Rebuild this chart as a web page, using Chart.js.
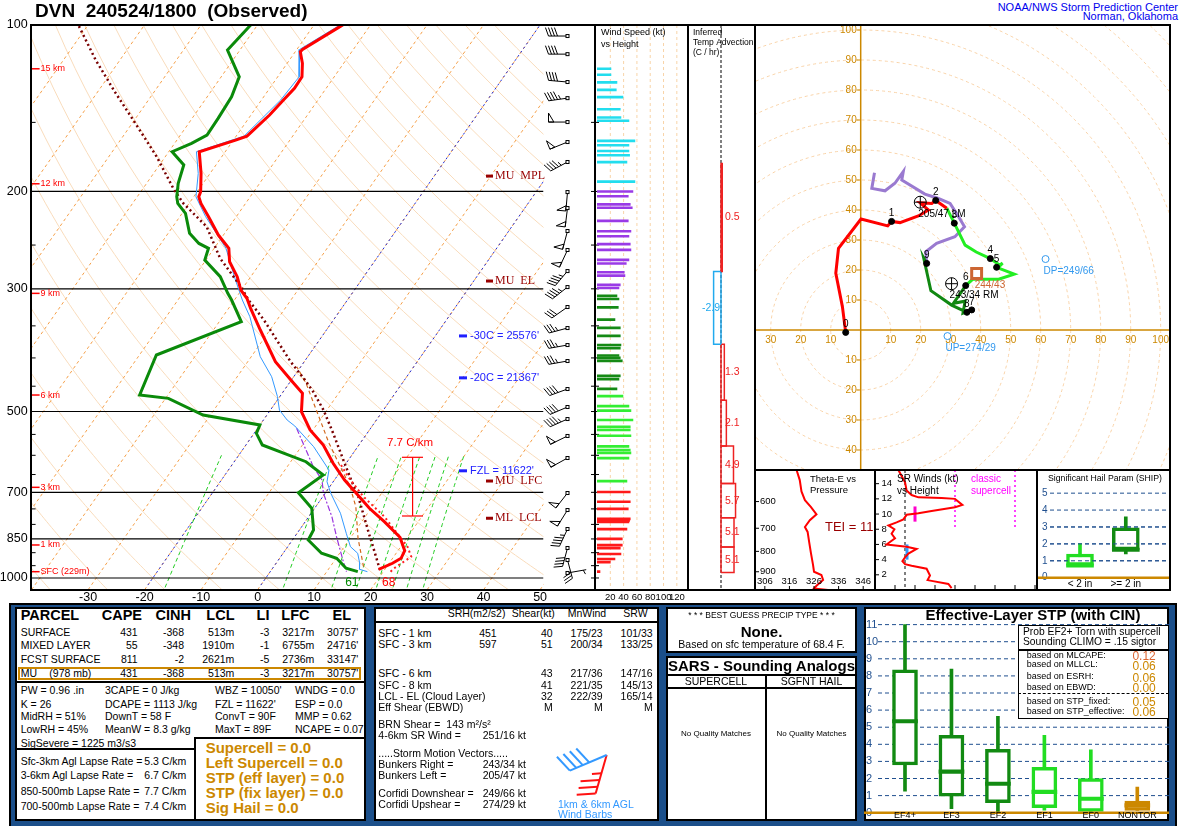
<!DOCTYPE html>
<html>
<head>
<meta charset="utf-8">
<title>DVN 240524/1800 (Observed)</title>
<script src="https://cdn.jsdelivr.net/npm/chart.js@4.4.1/dist/chart.umd.min.js"></script>
<style>
  body { margin: 0; width: 1180px; height: 826px; position: relative; overflow: hidden; background: #fff;
         font-family: "Liberation Sans", Arial, sans-serif; }
  canvas { position: absolute; z-index: 2; }
  .t { position: absolute; white-space: pre; z-index: 3; color: #000; }
  .b { position: absolute; box-sizing: border-box; z-index: 1; background: #fff; border: 2px solid #000; }
  .ln { position: absolute; background: #000; z-index: 3; }
</style>
</head>
<body>
<canvas id="skewt" width="600" height="606" style="left:0px;top:0px"></canvas>
<canvas id="wspd" width="93" height="606" style="left:595px;top:0px"></canvas>
<canvas id="tadv" width="67" height="606" style="left:688px;top:0px"></canvas>
<canvas id="hodo" width="415" height="445" style="left:755px;top:25px"></canvas>
<canvas id="theta" width="120" height="120" style="left:755px;top:470px"></canvas>
<canvas id="srw" width="162" height="120" style="left:875px;top:470px"></canvas>
<canvas id="ship" width="133" height="120" style="left:1037px;top:470px"></canvas>
<canvas id="stp" width="305" height="219" style="left:864px;top:607px"></canvas>
<canvas id="barb2" width="80" height="70" style="left:540px;top:735px"></canvas>
<script>
// ---------- sounding profiles (pressure mb, deg C) ----------
const tempP = [100, 101.4, 110.7, 111.8, 117.3, 124.1, 130.2, 136.7, 145.5, 158.8, 161.5, 169.5, 185.5, 200.2, 204.5, 210.2, 222.2, 239.8, 253.4, 268, 285.2, 301.5, 312.1, 325.4, 356.1, 406.4, 438.5, 463.5, 500.4, 540, 574.8, 620.3, 665, 707.8, 748.1, 791.1, 844.2, 892.5, 921.3, 940.6, 964.4];
const tempC = [-54.9, -55.5, -59.0, -59.1, -57.3, -55.7, -55.6, -56.1, -56.7, -58.1, -59.6, -64.6, -61.6, -59.4, -59.1, -57.9, -54.9, -50.9, -47.4, -45.6, -42.4, -40.1, -38.0, -36.1, -31.7, -25.1, -20.1, -16.4, -14.3, -10.5, -6.3, -2.3, 1.8, 6.0, 9.7, 14.0, 18.7, 21.2, 21.5, 20.6, 18.9];
const dwptP = [100, 111, 124.1, 134.8, 147.5, 158.1, 163.7, 169.5, 179.1, 193.4, 204.5, 210.2, 219.1, 238.1, 248.3, 253.4, 266.1, 285.2, 305.7, 314.3, 344, 395.2, 466.8, 473.3, 507.3, 528.9, 547.5, 574.8, 616.2, 651.3, 701.1, 748.1, 818.9, 853.7, 902.3, 921.3, 960.4, 974.1];
const dwptC = [-71.2, -72.2, -66.8, -65.7, -65.4, -65.3, -67.0, -69.4, -65.7, -64.4, -63.0, -62.0, -59.4, -56.2, -53.3, -51.0, -50.2, -45.4, -42.0, -40.5, -36.1, -47.0, -45.0, -39.5, -31.3, -20.0, -19.6, -17.1, -7.3, -2.6, -4.8, -0.5, 2.5, 2.8, 6.8, 10.1, 13.0, 15.5];
const wetbP = [100, 110.7, 124.1, 136.7, 158.8, 169.5, 185.5, 204.5, 222.2, 253.4, 285.2, 314.3, 336.9, 398, 432.6, 470.1, 496.9, 518, 531.1, 578.9, 637.9, 669.8, 702.8, 763.9, 830.2, 877.8, 902.3, 940.6, 964.4, 974.1];
const wetbC = [-55.4, -59.5, -56.2, -56.6, -58.6, -65.1, -62.1, -59.6, -55.4, -47.9, -42.9, -38.6, -35.2, -28.4, -23.9, -20.4, -18.4, -15.8, -13.7, -7.8, -2.2, -1.1, 1.0, 5.2, 8.7, 11.1, 13.2, 14.8, 15.5, 17.2];
const parcP = [967.2, 877.8, 842.1, 763.9, 712.8, 669.8, 611.8, 547.5, 496.9, 460.4, 438.5, 406.4, 341.6, 314.3, 297.4, 264.2, 231.6, 210.2, 198.8, 173.1, 152.8, 132, 115.7, 100];
const parcC = [19.2, 15.1, 13.3, 9.2, 6.3, 3.3, -0.9, -6.0, -10.6, -14.7, -17.6, -22.4, -32.3, -37.5, -40.5, -47.7, -54.0, -61.0, -64.3, -71.5, -78.6, -87.0, -94.3, -101.7];
const virtP = [974.1, 960.4, 915.1, 877.8, 774.8, 712.8, 655.9, 620];
const virtC = [21.3, 21.5, 23.1, 21.2, 13.4, 7.2, 2.0, -1.1];
const mlP = [954.1, 847.6, 743.2, 683.8, 629.1, 570.7, 444.6, 414.9];
const mlC = [15.9, 11.4, 7.1, 3.6, -0.6, -5.5, -17.0, -20.7];
const downP = [536.2, 629.1, 665, 702.8, 774.8, 842.1, 934.4, 974.1];
const downC = [-13.1, -5.4, -2.2, -0.3, 4.1, 7.4, 11.7, 13.5];

// ---------- skew-T axes ----------
const pressLabels = [100, 200, 300, 500, 700, 850, 1000];
const isobarP = [200, 300, 500, 700, 850, 1000];
const minorP = [150, 250, 350, 400, 450, 550, 600, 650, 750, 800, 900, 950];
const tempTicks = [-30, -20, -10, 0, 10, 20, 30, 40, 50];
const isothermC = [-120, -110, -100, -90, -80, -70, -60, -50, -40, -30, -20, -10, 0, 10, 20, 30, 40, 50];
const blueIsoC = [0, -20];
const adiabatC = [-40, -30, -20, -10, 0, 10, 20, 30, 40, 50, 60, 70, 80, 90, 100, 110, 120, 130, 140, 150, 160, 170, 180, 190, 200];
const mixRatio = [1, 5, 9, 12, 15, 18, 21, 25];
const hgtP = [120, 193.7, 305.7, 466.8, 685.6, 871.6, 974.1];
const hgtLabel = ['15 km', '12 km', '9 km', '6 km', '3 km', '1 km', 'SFC (229m)'];
const levelP = [187.6, 290.4, 667.8, 779.8];
const levelLabel = ['MU  MPL', 'MU  EL', 'MU  LFC', 'ML  LCL'];
const isoLvlP = [365, 434.6, 640];
const isoLvlLabel = ["-30C = 25576'", "-20C = 21367'", "FZL = 11622'"];
const lapseP = [605, 772.5];
const lapseLabel = '7.7 C/km';
const sfcLabels = ['61', '68'];

// ---------- winds ----------
const barbP = [104.7, 112.9, 126.8, 135.6, 149.8, 162.8, 176.9, 200.5, 214.3, 235.8, 255.2, 278.6, 297.8, 323.6, 353.2, 379.1, 405.2, 455.3, 490.7, 515.9, 553.6, 606.8, 702, 753.5, 815.5, 882.6, 927.8, 979.4];
const barbDir = [270, 270, 275, 262, 270, 248, 242, 185, 187, 195, 205, 220, 232, 235, 255, 260, 260, 250, 247, 246, 244, 241, 218, 212, 205, 195, 165, 80];
const barbSpd = [40, 40, 40, 45, 50, 50, 45, 50, 50, 50, 50, 44, 45, 31, 34, 36, 37, 38, 40, 45, 50, 49, 48, 50, 45, 38, 28, 5];
const spdP = [120, 123, 127, 131, 135, 142, 147, 149, 162, 165, 169, 172, 177, 192, 200, 204, 211, 214, 226, 236, 241, 249, 255, 266, 270, 280, 284, 295, 299, 309, 313, 324, 341, 353, 365, 379, 384, 396, 400, 405, 431, 437, 455, 469, 489, 498, 518, 533, 540, 553, 578, 587, 594, 607, 668, 699, 728, 750, 782, 787, 792, 816, 850, 872, 883, 905, 924, 936, 974];
const spdKt = [21, 21, 30, 29, 39, 35, 36, 48, 57, 48, 48, 49, 45, 57, 54, 47, 50, 53, 47, 51, 48, 50, 51, 48, 44, 41, 42, 35, 33, 30, 33, 32, 27, 35, 35, 36, 35, 33, 35, 38, 35, 33, 30, 39, 48, 51, 54, 50, 50, 51, 48, 50, 51, 48, 45, 50, 50, 47, 50, 49, 48, 45, 38, 38, 35, 36, 27, 20, 4.5];
const spdTicks = [20, 40, 60, 80, 100, 120];
const layerTopP = [685, 462, 304, 196];
const layerColors = ['#ff1a1a', '#33ee33', '#158a15', '#9a3ae6', '#22ddee'];

// ---------- inferred temperature advection ----------
const advTopP = [178, 279, 378, 477, 577, 675, 778, 879];
const advBotP = [279, 378, 477, 577, 675, 778, 879, 977];
const advVal = [0.5, -2.9, 1.3, 2.1, 4.9, 5.7, 5.1, 5.1];

// ---------- hodograph (u, v kt) ----------
const hodoRedU = [-5.0, -6.1, -8.3, -7.4, 0.1, 9.0, 10.3, 13.1, 19.2, 22.6, 19.8, 23.7, 25.0, 28.7];
const hodoRedV = [-0.8, 7.8, 18.9, 27.2, 37.0, 34.7, 36.2, 35.8, 38.0, 40.0, 42.4, 42.2, 43.2, 40.6];
const hodoLgU = [28.7, 31.2, 34.8, 38.5, 43.2, 46.5, 47.3, 45.3, 51.2, 46.0, 37.3, 35.0];
const hodoLgV = [40.6, 35.6, 28.3, 26.0, 23.8, 21.5, 22.3, 20.9, 18.6, 16.9, 16.9, 14.8];
const hodoDgU = [35.0, 30.9, 34.8, 34.1, 37.0, 35.4, 30.3, 23.4, 21.0, 22.0];
const hodoDgV = [14.8, 8.9, 9.6, 5.6, 6.7, 5.9, 8.3, 13.1, 24.0, 22.2];
const hodoPuU = [22.0, 21.7, 25.3, 31.4, 34.6, 32.6, 29.8, 25.5, 21.4, 13.7, 14.2, 11.4, 8.1, 3.7, 4.6];
const hodoPuV = [22.2, 26.1, 28.9, 31.1, 34.4, 37.8, 42.2, 44.0, 45.3, 50.0, 52.8, 48.9, 46.4, 47.2, 52.4];
const hodoKmU = [-5.0, 10.3, 25.0, 31.2, 43.2, 45.3, 35.0, 37.0, 35.4, 22.0];
const hodoKmV = [-0.8, 36.2, 43.2, 35.6, 23.8, 20.9, 14.8, 6.7, 5.9, 22.2];
const ringKt = [10, 20, 30, 40, 50, 60, 70, 80, 90, 100, 110, 120, 130, 140];
const hodoXTicks = [-30, -20, -10, 10, 20, 30, 40, 50, 60, 70, 80, 90, 100];
const hodoYTicks = [100, 90, 80, 70, 60, 50, 40, 30, 20, 10, -10, -20, -30, -40];
const stormLabel = ['205/47 LM', '243/34 RM'];
const stormDir = [205, 243];
const stormSpd = [47, 34];
const meanLabel = '244/43';
const meanDir = 244, meanSpd = 43;
const corfLabel = ['DP=249/66', 'UP=274/29'];
const corfDir = [249, 274];
const corfSpd = [66, 29];

// ---------- theta-e / storm-relative winds ----------
const thetaP = [500, 530, 566, 595, 619, 646, 668, 695, 715, 756, 805, 865, 900, 917, 944, 976, 991, 1000];
const thetaK = [318.9, 320.2, 320.9, 322.3, 324.7, 327.0, 324.3, 322.3, 323.4, 324.0, 324.7, 325.6, 326.0, 329.0, 329.7, 327.0, 326.0, 331.7];
const thetaXTicks = [306, 316, 326, 336, 346];
const thetaYTicks = [600, 700, 800, 900];
const srKm = [15.8, 15.0, 14.2, 13.1, 12.5, 12.2, 12.1, 12.0, 11.2, 10.9, 10.4, 10.1, 9.9, 9.3, 8.9, 8.5, 8.0, 7.4, 6.8, 6.0, 5.7, 5.4, 4.8, 4.3, 3.8, 3.4, 3.2, 2.8, 1.9, 1.3, 1.2, 0.8, 0.26];
const srKt = [11.7, 13.3, 15, 15.8, 18.3, 21.7, 33.3, 40, 43.7, 40, 28.3, 21.7, 15.8, 14.2, 10.8, 6.7, 9.7, 8.3, 10, 5.8, 15.8, 20.8, 16.7, 15, 13.7, 15, 18.3, 25.8, 27.5, 26.3, 28.3, 36.7, 38.3];
const srYTicks = [2, 4, 6, 8, 10, 12, 14];
const srLayerKm = [[9, 11], [4, 6]];
const srLayerKt = [20, 16];

// ---------- SHIP and STP box plots ----------
const shipCats = ['< 2 in', '>= 2 in'];
const shipMin = [0.72, 1.4], shipQ1 = [0.72, 1.65], shipMed = [0.72, 1.65], shipQ3 = [1.4, 2.95], shipMax = [2.0, 3.6];
const stpCats = ['EF4+', 'EF3', 'EF2', 'EF1', 'EF0', 'NONTOR'];
const stpMin = [1.26, 0.23, 0.04, 0.15, 0.0, 0.13];
const stpQ1 = [2.79, 0.96, 0.58, 0.29, 0.08, 0.13];
const stpMed = [5.35, 2.4, 1.69, 1.22, 0.82, 0.43];
const stpQ3 = [8.36, 4.52, 3.71, 2.65, 2.0, 0.68];
const stpMax = [11.0, 8.4, 5.64, 4.52, 3.68, 1.5];
const stpColors = ['#128a12', '#128a12', '#128a12', '#22dd22', '#22dd22', '#cc8800'];
const stpTicks = [0, 1, 2, 3, 4, 5, 6, 7, 8, 9, 10, 11];

// 1 km and 6 km AGL barbs (dir, kt)
const aglDir = [196, 247];
const aglSpd = [35, 40];
const aglColor = ['#ff1111', '#3399ff'];

// ---------- helpers ----------
const FONT = '"Liberation Sans", Arial, sans-serif';
const SKEW = 29.76;
function skewX(t, p) { return t + SKEW * Math.log(1050 / p); }
function prof(ps, ts) { return ps.map((p, i) => ({ x: skewX(ts[i], p), y: p })); }
function xy(xs, ys) { return xs.map((v, i) => ({ x: v, y: ys[i] })); }
function lineDs(data, color, width, dash) {
  return { data: data, showLine: true, borderColor: color, borderWidth: width, borderDash: dash || [],
           pointRadius: 0, fill: false, tension: 0 };
}
function base(extra) {
  const o = Object.assign({ responsive: false, animation: false, events: [],
    plugins: { legend: { display: false }, tooltip: { enabled: false } } }, extra);
  o.layout = Object.assign({ autoPadding: false, padding: 0 }, extra.layout || {});
  return o;
}
function uv(dir, spd) {
  const r = dir * Math.PI / 180;
  return [-spd * Math.sin(r), -spd * Math.cos(r)];
}
function seg(ctx, x1, y1, x2, y2) { ctx.beginPath(); ctx.moveTo(x1, y1); ctx.lineTo(x2, y2); ctx.stroke(); }
function layerColor(p) {
  for (let i = 0; i < layerTopP.length; i++) if (p > layerTopP[i]) return layerColors[i];
  return layerColors[layerColors.length - 1];
}

// staff points toward the direction the wind blows from; 50 kt flags drawn as open triangles
function drawBarb(ctx, x, y, dir, spd, len, flen, gap, solidFlag) {
  const r = dir * Math.PI / 180;
  const dx = Math.sin(r), dy = -Math.cos(r);
  const fx = -dy, fy = dx;
  const ex = x + dx * len, ey = y + dy * len;
  seg(ctx, x, y, ex, ey);
  const ox = (fx * 0.94 + dx * 0.34) * flen, oy = (fy * 0.94 + dy * 0.34) * flen;
  let s = Math.round(spd / 5) * 5, d = 0;
  while (s >= 50) {
    const bx = ex - dx * d, by = ey - dy * d;
    ctx.beginPath(); ctx.moveTo(bx, by); ctx.lineTo(bx + fx * flen, by + fy * flen);
    ctx.lineTo(bx - dx * gap * 1.8, by - dy * gap * 1.8); ctx.closePath();
    if (solidFlag) ctx.fill(); else ctx.stroke();
    d += gap * 2.4; s -= 50;
  }
  while (s >= 10) {
    const bx = ex - dx * d, by = ey - dy * d;
    seg(ctx, bx, by, bx + ox, by + oy);
    d += gap; s -= 10;
  }
  if (s >= 5) {
    if (d === 0) d = gap;
    const bx = ex - dx * d, by = ey - dy * d;
    seg(ctx, bx, by, bx + ox * 0.5, by + oy * 0.5);
  }
}

// ---------- skew-T ----------
const skewPlugin = {
  id: 'skewPlugin',
  beforeDatasetsDraw(chart) {
    const { ctx, chartArea: a, scales: { x, y } } = chart;
    const px = (t, p) => x.getPixelForValue(skewX(t, p));
    const py = p => y.getPixelForValue(p);
    ctx.save();
    ctx.beginPath(); ctx.rect(a.left, a.top, a.right - a.left, a.bottom - a.top); ctx.clip();
    ctx.lineWidth = 1;
    ctx.strokeStyle = '#f9dcbc';
    adiabatC.forEach(t0 => {
      const th = t0 + 273.15;
      ctx.beginPath();
      for (let p = 1050; p >= 100; p -= 10) {
        const t = th * Math.pow(p / 1000, 0.2857) - 273.15;
        if (p === 1050) ctx.moveTo(px(t, p), py(p)); else ctx.lineTo(px(t, p), py(p));
      }
      ctx.stroke();
    });
    ctx.setLineDash([3, 3]); ctx.strokeStyle = '#f5a04a';
    isothermC.forEach(t => seg(ctx, px(t, 1050), py(1050), px(t, 100), py(100)));
    ctx.setLineDash([4, 3]); ctx.strokeStyle = '#22cc22';
    mixRatio.forEach(w => {
      ctx.beginPath();
      for (let p = 1040; p >= 600; p -= 20) {
        const l = Math.log(w * p / (622 + w) / 6.112);
        const t = 243.5 * l / (17.67 - l);
        if (p === 1040) ctx.moveTo(px(t, p), py(p)); else ctx.lineTo(px(t, p), py(p));
      }
      ctx.stroke();
    });
    ctx.setLineDash([2, 3]); ctx.strokeStyle = '#1f2fe0';
    blueIsoC.forEach(t => seg(ctx, px(t, 1030), py(1030), px(t, 100), py(100)));
    ctx.setLineDash([]); ctx.strokeStyle = '#000'; ctx.lineWidth = 1.2;
    isobarP.forEach(p => seg(ctx, a.left, py(p), a.right, py(p)));
    ctx.restore();
  },
  afterDraw(chart) {
    const { ctx, chartArea: a, scales: { x, y } } = chart;
    const px = (t, p) => x.getPixelForValue(skewX(t, p));
    const py = p => y.getPixelForValue(p);
    ctx.save();
    ctx.textBaseline = 'middle';
    ctx.fillStyle = '#000'; ctx.strokeStyle = '#000'; ctx.lineWidth = 1;
    ctx.font = '12.5px ' + FONT; ctx.textAlign = 'right';
    pressLabels.forEach(p => ctx.fillText(String(p), a.left - 3, py(p)));
    minorP.forEach(p => seg(ctx, a.left, py(p), a.left + 5, py(p)));
    for (let p = 150; p <= 1000; p += 50) seg(ctx, 591, py(p), 599, py(p));
    ctx.textAlign = 'center';
    tempTicks.forEach(t => ctx.fillText(String(t), x.getPixelForValue(t), a.bottom + 8));
    // heights
    ctx.strokeStyle = '#ff0000'; ctx.fillStyle = '#ff0000'; ctx.lineWidth = 1.5;
    ctx.font = '9px ' + FONT; ctx.textAlign = 'left';
    hgtP.forEach((p, i) => { seg(ctx, a.left, py(p), a.left + 9, py(p)); ctx.fillText(hgtLabel[i], a.left + 10, py(p)); });
    // parcel levels
    ctx.fillStyle = '#990000'; ctx.font = '12px "Liberation Serif", "DejaVu Serif", serif';
    levelP.forEach((p, i) => { ctx.fillRect(486, py(p) - 1.5, 7, 3); ctx.fillText(levelLabel[i], 495, py(p)); });
    ctx.fillStyle = '#2020ff'; ctx.font = '11px ' + FONT;
    isoLvlP.forEach((p, i) => { ctx.fillRect(459, py(p) - 1.5, 8, 3); ctx.fillText(isoLvlLabel[i], 470, py(p)); });
    // lapse-rate bracket
    ctx.strokeStyle = '#ff0000'; ctx.fillStyle = '#ff0000'; ctx.lineWidth = 1.2;
    const y1 = py(lapseP[0]), y2 = py(lapseP[1]);
    seg(ctx, 412.6, y1, 412.6, y2); seg(ctx, 402, y1, 423, y1); seg(ctx, 402, y2, 423, y2);
    ctx.font = '11.5px ' + FONT;
    ctx.textAlign = 'center'; ctx.fillText(lapseLabel, 410, y1 - 14);
    // surface values
    ctx.font = '12px ' + FONT;
    ctx.fillStyle = '#008800';
    ctx.fillText(sfcLabels[0], px(dwptC[dwptC.length - 1], dwptP[dwptP.length - 1]) - 6, py(1021));
    ctx.fillStyle = '#ff0000';
    ctx.fillText(sfcLabels[1], px(tempC[tempC.length - 1], tempP[tempP.length - 1]) + 10, py(1021));
    // wind barbs
    ctx.strokeStyle = '#000'; ctx.fillStyle = '#000'; ctx.lineWidth = 1;
    barbP.forEach((p, i) => {
      drawBarb(ctx, 567.5, py(p), barbDir[i], barbSpd[i], 19, 9, 3, false);
      ctx.fillStyle = '#fff';
      ctx.fillRect(566, py(p) - 1.5, 3, 3); ctx.strokeRect(566, py(p) - 1.5, 3, 3);
      ctx.fillStyle = '#000';
    });
    ctx.restore();
  }
};

new Chart(document.getElementById('skewt'), {
  type: 'scatter',
  data: { datasets: [
    lineDs(prof(tempP, tempC), '#ff0000', 3),
    lineDs(prof(dwptP, dwptC), '#0a8a0a', 3),
    lineDs(prof(virtP, virtC), '#ff2222', 2, [2, 3]),
    lineDs(prof(parcP, parcC), '#7a0000', 2.5, [2, 3]),
    lineDs(prof(wetbP, wetbC), '#3399ff', 1),
    lineDs(prof(mlP, mlC), '#d2691e', 1.2, [4, 3]),
    lineDs(prof(downP, downC), '#9933dd', 1.2, [6, 2, 2, 2])
  ] },
  options: base({
    layout: { padding: { left: 30.6, right: 56.5, top: 25, bottom: 16.3 } },
    scales: {
      x: { type: 'linear', min: -40.18, max: 50.6, display: false, bounds: 'data' },
      y: { type: 'logarithmic', min: 100, max: 1050, reverse: true, display: false, bounds: 'data' }
    }
  }),
  plugins: [skewPlugin]
});

// ---------- wind speed vs height ----------
new Chart(document.getElementById('wspd'), {
  type: 'bar',
  data: { datasets: [{ data: xy(spdKt, spdP), backgroundColor: spdP.map(layerColor), barThickness: 2, borderWidth: 0 }] },
  options: base({
    indexAxis: 'y',
    layout: { padding: { left: 2, right: 0, top: 25, bottom: 16.3 } },
    scales: {
      x: { type: 'linear', min: 0, max: 136.8, display: false, bounds: 'data' },
      y: { type: 'logarithmic', min: 100, max: 1050, reverse: true, display: false, bounds: 'data' }
    }
  }),
  plugins: [{
    id: 'wspdPlugin',
    beforeDatasetsDraw(chart) {
      const { ctx, chartArea: a, scales: { x } } = chart;
      ctx.save(); ctx.strokeStyle = '#f8d4a8'; ctx.setLineDash([3, 3]); ctx.lineWidth = 1;
      spdTicks.forEach(v => seg(ctx, x.getPixelForValue(v), a.top, x.getPixelForValue(v), a.bottom));
      ctx.restore();
    },
    afterDraw(chart) {
      const { ctx, chartArea: a, scales: { x } } = chart;
      ctx.save(); ctx.fillStyle = '#000'; ctx.textBaseline = 'middle';
      ctx.font = '9.5px ' + FONT; ctx.textAlign = 'center';
      spdTicks.forEach(v => ctx.fillText(String(v), x.getPixelForValue(v), a.bottom + 8));
      ctx.textAlign = 'left'; ctx.font = '9px ' + FONT;
      ctx.fillText('Wind Speed (kt)', 6, 33); ctx.fillText('vs Height', 6, 45);
      ctx.restore();
    }
  }]
});

// ---------- inferred temperature advection ----------
new Chart(document.getElementById('tadv'), {
  type: 'scatter',
  data: { datasets: advVal.map((v, i) => lineDs(
    [{ x: 0, y: advBotP[i] }, { x: v, y: advBotP[i] }, { x: v, y: advTopP[i] }, { x: 0, y: advTopP[i] }, { x: 0, y: advBotP[i] }],
    v >= 0 ? '#ee2222' : '#22aaee', 1.5)) },
  options: base({
    layout: { padding: { left: 0, right: 0, top: 25, bottom: 16.3 } },
    scales: {
      x: { type: 'linear', min: -12.94, max: 13.33, display: false, bounds: 'data' },
      y: { type: 'logarithmic', min: 100, max: 1050, reverse: true, display: false, bounds: 'data' }
    }
  }),
  plugins: [{
    id: 'advPlugin',
    beforeDatasetsDraw(chart) {
      const { ctx, chartArea: a, scales: { x } } = chart;
      ctx.save(); ctx.strokeStyle = '#000'; ctx.setLineDash([3, 2]); ctx.lineWidth = 1;
      seg(ctx, x.getPixelForValue(0), a.top, x.getPixelForValue(0), a.bottom);
      ctx.restore();
    },
    afterDraw(chart) {
      const { ctx, scales: { x, y } } = chart;
      ctx.save(); ctx.textBaseline = 'middle'; ctx.font = '10.5px ' + FONT;
      const x0 = x.getPixelForValue(0);
      advVal.forEach((v, i) => {
        const yc = (y.getPixelForValue(advTopP[i]) + y.getPixelForValue(advBotP[i])) / 2;
        if (v >= 0) { ctx.fillStyle = '#ee2222'; ctx.textAlign = 'left'; ctx.fillText(v.toFixed(1), x0 + 4, yc); }
        else { ctx.fillStyle = '#22aaee'; ctx.textAlign = 'right'; ctx.fillText(v.toFixed(1), x0 - 1, yc); }
      });
      ctx.fillStyle = '#000'; ctx.textAlign = 'left'; ctx.font = '8.5px ' + FONT;
      ctx.fillText('Inferred', 5, 33); ctx.fillText('Temp Advection', 5, 43); ctx.fillText('(C / hr)', 5, 53);
      ctx.restore();
    }
  }]
});

// ---------- hodograph ----------
const stormUV = stormDir.map((d, i) => uv(d, stormSpd[i]));
const meanUV = uv(meanDir, meanSpd);
const corfUV = corfDir.map((d, i) => uv(d, corfSpd[i]));
const hodoTrace = (u, v, c) => lineDs(xy(u, v), c, 3);
new Chart(document.getElementById('hodo'), {
  type: 'scatter',
  data: { datasets: [
    { data: xy(hodoKmU, hodoKmV), pointRadius: 3, pointBackgroundColor: '#000', pointBorderColor: '#000' },
    { data: stormUV.map(p => ({ x: p[0], y: p[1] })), pointStyle: 'circle', pointRadius: 6, pointBackgroundColor: 'rgba(0,0,0,0)', pointBorderColor: '#000', pointBorderWidth: 1 },
    { data: stormUV.map(p => ({ x: p[0], y: p[1] })), pointStyle: 'cross', pointRadius: 6, pointBorderColor: '#000', pointBorderWidth: 1 },
    { data: [{ x: meanUV[0], y: meanUV[1] }], pointStyle: 'rect', pointRadius: 7, pointBackgroundColor: '#fff', pointBorderColor: '#cc6633', pointBorderWidth: 3 },
    { data: corfUV.map(p => ({ x: p[0], y: p[1] })), pointStyle: 'circle', pointRadius: 3.5, pointBackgroundColor: '#fff', pointBorderColor: '#3399ee', pointBorderWidth: 1 },
    hodoTrace(hodoRedU, hodoRedV, '#ff0000'),
    hodoTrace(hodoLgU, hodoLgV, '#22ee22'),
    hodoTrace(hodoDgU, hodoDgV, '#118811'),
    hodoTrace(hodoPuU, hodoPuV, '#9a7ad0')
  ] },
  options: base({
    layout: { padding: 0 },
    scales: {
      x: { type: 'linear', min: -35.23, max: 103.1, display: false, bounds: 'data' },
      y: { type: 'linear', min: -46.67, max: 101.67, display: false, bounds: 'data' }
    }
  }),
  plugins: [{
    id: 'hodoPlugin',
    beforeDatasetsDraw(chart) {
      const { ctx, chartArea: a, scales: { x, y } } = chart;
      const ox = x.getPixelForValue(0), oy = y.getPixelForValue(0);
      ctx.save();
      ctx.beginPath(); ctx.rect(a.left, a.top, a.right - a.left, a.bottom - a.top); ctx.clip();
      ctx.strokeStyle = '#f9d3a8'; ctx.setLineDash([3, 3]); ctx.lineWidth = 1;
      ringKt.forEach(r => { ctx.beginPath(); ctx.arc(ox, oy, x.getPixelForValue(r) - ox, 0, Math.PI * 2); ctx.stroke(); });
      ctx.setLineDash([]); ctx.strokeStyle = '#cc8800'; ctx.lineWidth = 1.5;
      seg(ctx, a.left, oy, a.right, oy); seg(ctx, ox, a.top, ox, a.bottom);
      ctx.fillStyle = '#cc8800'; ctx.font = '10px ' + FONT; ctx.textBaseline = 'middle';
      ctx.textAlign = 'center';
      hodoXTicks.forEach(u => ctx.fillText(String(Math.abs(u)), x.getPixelForValue(u), oy + 10));
      ctx.textAlign = 'right'; ctx.lineWidth = 1;
      hodoYTicks.forEach(v => { const yy = y.getPixelForValue(v); seg(ctx, ox - 4, yy, ox, yy); ctx.fillText(String(Math.abs(v)), ox - 4, yy); });
      ctx.restore();
    },
    afterDatasetsDraw(chart) {
      const { ctx, scales: { x, y } } = chart;
      ctx.save(); ctx.font = '10px ' + FONT; ctx.textBaseline = 'middle';
      ctx.fillStyle = '#000'; ctx.textAlign = 'center';
      hodoKmU.forEach((u, i) => ctx.fillText(String(i), x.getPixelForValue(u), y.getPixelForValue(hodoKmV[i]) - 8));
      ctx.textAlign = 'left';
      stormUV.forEach((p, i) => ctx.fillText(stormLabel[i], x.getPixelForValue(p[0]) - 2, y.getPixelForValue(p[1]) + 12));
      ctx.fillStyle = '#cc6633';
      ctx.fillText(meanLabel, x.getPixelForValue(meanUV[0]) - 2, y.getPixelForValue(meanUV[1]) + 12);
      ctx.fillStyle = '#3399ee';
      corfUV.forEach((p, i) => ctx.fillText(corfLabel[i], x.getPixelForValue(p[0]) - 2, y.getPixelForValue(p[1]) + 12));
      ctx.restore();
    }
  }]
});

// ---------- theta-e vs pressure ----------
new Chart(document.getElementById('theta'), {
  type: 'scatter',
  data: { datasets: [lineDs(xy(thetaK, thetaP), '#ff0000', 2)] },
  options: base({
    layout: { padding: 0 },
    scales: {
      x: { type: 'linear', min: 302, max: 350.8, display: false, bounds: 'data' },
      y: { type: 'logarithmic', min: 500, max: 1000, reverse: true, display: false, bounds: 'data' }
    }
  }),
  plugins: [{
    id: 'thetaPlugin',
    afterDraw(chart) {
      const { ctx, chartArea: a, scales: { x, y } } = chart;
      ctx.save(); ctx.fillStyle = '#000'; ctx.strokeStyle = '#000'; ctx.lineWidth = 1;
      ctx.font = '9.5px ' + FONT; ctx.textBaseline = 'middle';
      ctx.textAlign = 'left';
      thetaYTicks.forEach(p => { const yy = y.getPixelForValue(p); seg(ctx, 0, yy, 4, yy); ctx.fillText(String(p), 5, yy); });
      ctx.textAlign = 'center';
      thetaXTicks.forEach(t => { const xx = x.getPixelForValue(t); seg(ctx, xx, a.bottom - 4, xx, a.bottom); ctx.fillText(String(t), xx, a.bottom - 9); });
      ctx.textAlign = 'left';
      ctx.fillText('Theta-E vs', 55, 9); ctx.fillText('Pressure', 55, 20);
      ctx.fillStyle = '#990000'; ctx.font = '13px ' + FONT;
      ctx.fillText('TEI = 11', 70, 57);
      ctx.restore();
    }
  }]
});

// ---------- storm-relative winds vs height ----------
new Chart(document.getElementById('srw'), {
  type: 'scatter',
  data: { datasets: [
    lineDs(xy(srKt, srKm), '#ff0000', 2),
    lineDs([{ x: srLayerKt[0], y: srLayerKm[0][0] }, { x: srLayerKt[0], y: srLayerKm[0][1] }], '#ff00cc', 3),
    lineDs([{ x: srLayerKt[1], y: srLayerKm[1][0] }, { x: srLayerKt[1], y: srLayerKm[1][1] }], '#3399ff', 3)
  ] },
  options: base({
    layout: { padding: 0 },
    scales: {
      x: { type: 'linear', min: 0, max: 81, display: false, bounds: 'data' },
      y: { type: 'linear', min: 0, max: 15.8, display: false, bounds: 'data' }
    }
  }),
  plugins: [{
    id: 'srPlugin',
    beforeDatasetsDraw(chart) {
      const { ctx, chartArea: a, scales: { x, y } } = chart;
      ctx.save(); ctx.lineWidth = 1;
      ctx.strokeStyle = '#000'; ctx.setLineDash([3, 3]);
      seg(ctx, x.getPixelForValue(15), a.top, x.getPixelForValue(15), a.bottom);
      ctx.strokeStyle = '#ff00ff'; ctx.lineWidth = 1.5; ctx.setLineDash([2, 3]);
      [40, 70].forEach(v => seg(ctx, x.getPixelForValue(v), a.top, x.getPixelForValue(v), y.getPixelForValue(8)));
      ctx.setLineDash([]); ctx.strokeStyle = '#000'; ctx.lineWidth = 1;
      for (let v = 10; v <= 80; v += 10) seg(ctx, x.getPixelForValue(v), a.bottom - 5, x.getPixelForValue(v), a.bottom);
      ctx.fillStyle = '#000'; ctx.font = '9.5px ' + FONT; ctx.textBaseline = 'middle'; ctx.textAlign = 'left';
      srYTicks.forEach(k => { const yy = y.getPixelForValue(k); seg(ctx, 0, yy, 4, yy); ctx.fillText(String(k), 6.5, yy); });
      ctx.restore();
    },
    afterDraw(chart) {
      const { ctx } = chart;
      ctx.save(); ctx.font = '10px ' + FONT; ctx.textBaseline = 'middle'; ctx.textAlign = 'left';
      ctx.fillStyle = '#000';
      ctx.fillText('SR Winds (kt)', 22, 9); ctx.fillText('vs Height', 22, 21);
      ctx.fillStyle = '#ff00ff';
      ctx.fillText('classic', 96, 9); ctx.fillText('supercell', 96, 21);
      ctx.restore();
    }
  }]
});

// ---------- box-plot helpers ----------
function boxSets(cats, mn, q1, md, q3, mx, colors, width) {
  return [
    { data: cats.map((c, i) => [md[i] - 0.1, md[i] + 0.1]), backgroundColor: colors, barThickness: width, grouped: false, order: 0 },
    { data: cats.map((c, i) => [q1[i], q3[i]]), backgroundColor: '#fff', borderColor: colors, borderWidth: 3.5, borderSkipped: false, barThickness: width, grouped: false, order: 1 },
    { data: cats.map((c, i) => [mn[i], mx[i]]), backgroundColor: colors, barThickness: 3, grouped: false, order: 2 }
  ];
}

// ---------- SHIP ----------
new Chart(document.getElementById('ship'), {
  type: 'bar',
  data: { labels: shipCats, datasets: boxSets(shipCats, shipMin, shipQ1, shipMed, shipQ3, shipMax, ['#22dd22', '#128a12'], 27) },
  options: base({
    layout: { padding: { left: 20.1, right: 21.3, top: 0, bottom: 0 } },
    scales: {
      x: { type: 'category', display: false, offset: true },
      y: { type: 'linear', min: -0.728, max: 6.37, display: false, bounds: 'data' }
    }
  }),
  plugins: [{
    id: 'shipPlugin',
    beforeDatasetsDraw(chart) {
      const { ctx, scales: { y }, width } = chart;
      ctx.save(); ctx.strokeStyle = '#1f4f8f'; ctx.setLineDash([4, 3]); ctx.lineWidth = 1;
      [1, 2, 3, 4, 5].forEach(v => seg(ctx, 13, y.getPixelForValue(v), width, y.getPixelForValue(v)));
      ctx.setLineDash([]);
      ctx.fillStyle = '#1f4f8f'; ctx.font = '10px ' + FONT; ctx.textBaseline = 'middle'; ctx.textAlign = 'left';
      [0, 1, 2, 3, 4, 5].forEach(v => ctx.fillText(String(v), 5, y.getPixelForValue(v)));
      ctx.fillStyle = '#000'; ctx.font = '8.7px ' + FONT;
      ctx.fillText('Significant Hail Param (SHIP)', 11, 9);
      ctx.restore();
    },
    afterDatasetsDraw(chart) {
      const { ctx, scales: { x, y }, width } = chart;
      ctx.save(); ctx.strokeStyle = '#1f4f8f'; ctx.setLineDash([4, 3]); ctx.lineWidth = 1;
      [1, 2, 3].forEach(v => seg(ctx, 13, y.getPixelForValue(v), width, y.getPixelForValue(v)));
      ctx.setLineDash([]);
      ctx.strokeStyle = '#cc8800'; ctx.lineWidth = 2.5;
      seg(ctx, 0, y.getPixelForValue(0), width, y.getPixelForValue(0));
      ctx.fillStyle = '#000'; ctx.font = '10px ' + FONT; ctx.textBaseline = 'middle'; ctx.textAlign = 'center';
      shipCats.forEach((c, i) => ctx.fillText(c, x.getPixelForValue(i), 114));
      ctx.restore();
    }
  }]
});

// ---------- STP ----------
new Chart(document.getElementById('stp'), {
  type: 'bar',
  data: { labels: stpCats, datasets: boxSets(stpCats, stpMin, stpQ1, stpMed, stpQ3, stpMax, stpColors, 25) },
  options: base({
    layout: { padding: { left: 17.77, right: 8.47, top: 0, bottom: 6 } },
    scales: {
      x: { type: 'category', display: false, offset: true },
      y: { type: 'linear', min: -0.427, max: 12.03, display: false, bounds: 'data' }
    }
  }),
  plugins: [{
    id: 'stpPlugin',
    beforeDatasetsDraw(chart) {
      const { ctx, scales: { y }, width } = chart;
      ctx.save(); ctx.strokeStyle = '#1f4f8f'; ctx.setLineDash([4, 3]); ctx.lineWidth = 1;
      stpTicks.forEach(v => { if (v > 0) seg(ctx, 14, y.getPixelForValue(v), width, y.getPixelForValue(v)); });
      ctx.setLineDash([]);
      ctx.fillStyle = '#1f4f8f'; ctx.font = '11px ' + FONT; ctx.textBaseline = 'middle'; ctx.textAlign = 'left';
      stpTicks.forEach(v => ctx.fillText(String(v), 2, y.getPixelForValue(v)));
      ctx.restore();
    },
    afterDatasetsDraw(chart) {
      const { ctx, scales: { x, y }, width } = chart;
      ctx.save(); ctx.strokeStyle = '#cc8800'; ctx.lineWidth = 2.5;
      seg(ctx, 0, y.getPixelForValue(0), width, y.getPixelForValue(0));
      ctx.fillStyle = '#000'; ctx.font = '9px ' + FONT; ctx.textBaseline = 'middle'; ctx.textAlign = 'center';
      stpCats.forEach((c, i) => ctx.fillText(c, x.getPixelForValue(i), 208.5));
      ctx.restore();
    }
  }]
});

// ---------- 1 km & 6 km AGL barbs ----------
new Chart(document.getElementById('barb2'), {
  type: 'scatter',
  data: { datasets: [{ data: [{ x: 0, y: 0 }], pointRadius: 0 }] },
  options: base({
    layout: { padding: 0 },
    scales: {
      x: { type: 'linear', min: -1, max: 0.2, display: false, bounds: 'data' },
      y: { type: 'linear', min: -1, max: 0.4, display: false, bounds: 'data' }
    }
  }),
  plugins: [{
    id: 'aglBarbs',
    afterDraw(chart) {
      const { ctx, scales: { x, y } } = chart;
      ctx.save(); ctx.lineWidth = 2;
      aglDir.forEach((d, i) => {
        ctx.strokeStyle = aglColor[i]; ctx.fillStyle = aglColor[i];
        drawBarb(ctx, x.getPixelForValue(0), y.getPixelForValue(0), d, aglSpd[i], 40, 19, 7, true);
      });
      ctx.restore();
    }
  }]
});

// ---------- text panels ----------
function T(x, y, s, o) {
  o = o || {};
  const d = document.createElement('div');
  d.className = 't';
  d.textContent = s;
  const size = o.size || 10.5;
  d.style.fontSize = size + 'px';
  d.style.lineHeight = size + 'px';
  d.style.top = (y - size / 2 - 0.5) + 'px';
  if (o.bold) d.style.fontWeight = 'bold';
  if (o.color) d.style.color = o.color;
  if (o.font) d.style.fontFamily = o.font;
  if (o.align === 'right') { d.style.left = (x - 400) + 'px'; d.style.width = '400px'; d.style.textAlign = 'right'; }
  else if (o.align === 'center') { d.style.left = (x - 400) + 'px'; d.style.width = '800px'; d.style.textAlign = 'center'; }
  else d.style.left = x + 'px';
  document.body.appendChild(d);
}
function B(x1, y1, x2, y2, css) {
  const d = document.createElement('div');
  d.className = 'b';
  d.style.left = x1 + 'px'; d.style.top = y1 + 'px';
  d.style.width = (x2 - x1) + 'px'; d.style.height = (y2 - y1) + 'px';
  if (css) Object.assign(d.style, css);
  document.body.appendChild(d);
}
function L(x1, y1, x2, y2, w) {
  const d = document.createElement('div');
  d.className = 'ln';
  w = w || 2;
  if (y1 === y2) { d.style.left = x1 + 'px'; d.style.top = (y1 - w / 2) + 'px'; d.style.width = (x2 - x1) + 'px'; d.style.height = w + 'px'; }
  else { d.style.left = (x1 - w / 2) + 'px'; d.style.top = y1 + 'px'; d.style.width = w + 'px'; d.style.height = (y2 - y1) + 'px'; }
  document.body.appendChild(d);
}

// header
T(35, 11, 'DVN  240524/1800  (Observed)', { size: 19, bold: true });
T(1178, 7.5, 'NOAA/NWS Storm Prediction Center', { size: 11, color: '#0000ee', align: 'right' });
T(1178, 17, 'Norman, Oklahoma', { size: 11, color: '#0000ee', align: 'right' });

// frames of the upper panels
L(30, 25, 1171, 25); L(30.6, 25, 30.6, 590); L(30, 590, 1171, 590);
L(595, 25, 595, 590); L(688, 25, 688, 590); L(755, 25, 755, 590); L(1170, 25, 1170, 590);
L(755, 470, 1170, 470); L(875, 470, 875, 590); L(1037, 470, 1037, 590);

// bottom frame and boxes
B(9, 603, 1177, 830, { background: '#1b4f8a', border: '2px solid #000' });
B(15, 607, 366, 821);
B(374, 607, 659, 821);
B(666, 607, 857, 653);
B(666, 656, 857, 821);
B(864, 607, 1169, 821);
B(194, 736.5, 366, 821, { zIndex: 1 });
B(18.3, 666.7, 361, 680.5, { border: '2px solid #cc8800', background: 'transparent', zIndex: 2 });
B(1018, 625, 1169, 719, { zIndex: 3, borderWidth: '1.5px' });
L(15, 682, 366, 682); L(15, 749, 194, 749);
L(374, 622, 659, 622);
L(666, 675, 857, 675); L(666, 688, 857, 688); L(766, 675, 766, 821);

// parcel table
const parcelHead = ['CAPE', 'CINH', 'LCL', 'LI', 'LFC', 'EL'];
const parcelHeadX = [142, 191, 234.5, 269.5, 309.5, 351];
const parcelName = ['SURFACE', 'MIXED LAYER', 'FCST SURFACE', 'MU'];
const parcelCape = ['431', '55', '811', '431'];
const parcelCinh = ['-368', '-348', '-2', '-368'];
const parcelLcl = ['513m', '1910m', '2621m', '513m'];
const parcelLi = ['-3', '-1', '-5', '-3'];
const parcelLfc = ['3217m', '6755m', '2736m', '3217m'];
const parcelEl = ["30757'", "24716'", "33147'", "30757'"];
const parcelRowY = [632.3, 646, 660, 674];
const parcelColX = [137.7, 184, 234.3, 269.3, 314.3, 358.3];
T(20.7, 615.7, 'PARCEL', { size: 14.5, bold: true });
parcelHead.forEach((h, i) => T(parcelHeadX[i], 615.7, h, { size: 14.5, bold: true, align: 'right' }));
parcelName.forEach((n, i) => {
  const yy = parcelRowY[i];
  T(20.7, yy, n);
  [parcelCape, parcelCinh, parcelLcl, parcelLi, parcelLfc, parcelEl].forEach((col, j) => T(parcelColX[j], yy, col[i], { align: 'right' }));
});
T(49.3, 674, '(978 mb)');

const idxRows = [
  ['PW = 0.96 .in', '3CAPE = 0 J/kg', "WBZ = 10050'", 'WNDG = 0.0'],
  ['K = 26', 'DCAPE = 1113 J/kg', "FZL = 11622'", 'ESP = 0.0'],
  ['MidRH = 51%', 'DownT = 58 F', 'ConvT = 90F', 'MMP = 0.62'],
  ['LowRH = 45%', 'MeanW = 8.3 g/kg', 'MaxT = 89F', 'NCAPE = 0.07']
];
const idxY = [690.7, 704.3, 717, 729.7];
const idxX = [20.7, 105, 215, 295];
idxRows.forEach((r, i) => r.forEach((s, j) => T(idxX[j], idxY[i], s)));
T(20.7, 743.3, 'SigSevere = 1225 m3/s3');

const lapseName = ['Sfc-3km Agl Lapse Rate =', '3-6km Agl Lapse Rate =', '850-500mb Lapse Rate =', '700-500mb Lapse Rate ='];
const lapseVal = ['5.3 C/km', '6.7 C/km', '7.7 C/km', '7.4 C/km'];
const lapseY = [761.7, 776, 791.7, 806.7];
lapseName.forEach((s, i) => { T(20.7, lapseY[i], s); T(144.3, lapseY[i], lapseVal[i]); });

const scpText = ['Supercell = 0.0', 'Left Supercell = 0.0', 'STP (eff layer) = 0.0', 'STP (fix layer) = 0.0', 'Sig Hail = 0.0'];
const scpY = [747.7, 763.3, 778.3, 793.3, 808.3];
scpText.forEach((s, i) => T(205.7, scpY[i], s, { size: 15, bold: true, color: '#cc8800' }));

// kinematic table
T(447.7, 614, 'SRH(m2/s2)'); T(511.7, 614, 'Shear(kt)'); T(567.7, 614, 'MnWind'); T(623.3, 614, 'SRW');
const kinName = ['SFC - 1 km', 'SFC - 3 km', 'SFC - 6 km', 'SFC - 8 km', 'LCL - EL (Cloud Layer)', 'Eff Shear (EBWD)'];
const kinSrh = ['451', '597', '', '', '', ''];
const kinShear = ['40', '51', '43', '41', '32', 'M'];
const kinMean = ['175/23', '200/34', '217/36', '221/35', '222/39', 'M'];
const kinSrw = ['101/33', '133/25', '147/16', '145/13', '165/14', 'M'];
const kinY = [634, 645, 674, 685.7, 697, 707.7];
kinName.forEach((s, i) => {
  T(378.3, kinY[i], s);
  T(496.7, kinY[i], kinSrh[i], { align: 'right' });
  T(552.7, kinY[i], kinShear[i], { align: 'right' });
  T(602.7, kinY[i], kinMean[i], { align: 'right' });
  T(652.7, kinY[i], kinSrw[i], { align: 'right' });
});
T(378.3, 725, 'BRN Shear =  143 m\u00b2/s\u00b2');
T(378.3, 736, '4-6km SR Wind ='); T(482.7, 736, '251/16 kt');
T(378.3, 754, '.....Storm Motion Vectors.....');
const smName = ['Bunkers Right =', 'Bunkers Left =', 'Corfidi Downshear =', 'Corfidi Upshear ='];
const smVal = ['243/34 kt', '205/47 kt', '249/66 kt', '274/29 kt'];
const smY = [765, 776, 794, 805];
smName.forEach((s, i) => { T(378.3, smY[i], s); T(482.7, smY[i], smVal[i]); });
T(558, 805, '1km & 6km AGL', { color: '#3399ff' });
T(558, 815, 'Wind Barbs', { color: '#3399ff' });

// precip type / SARS
T(761.5, 616, '* * * BEST GUESS PRECIP TYPE * * *', { size: 8.5, align: 'center' });
T(761.5, 632, 'None.', { size: 15, bold: true, align: 'center' });
T(761.5, 645, 'Based on sfc temperature of 68.4 F.', { align: 'center' });
T(761.5, 665.5, 'SARS - Sounding Analogs', { size: 15, bold: true, align: 'center' });
T(716, 682, 'SUPERCELL', { align: 'center' });
T(811.5, 682, 'SGFNT HAIL', { align: 'center' });
T(716, 734, 'No Quality Matches', { size: 8, align: 'center' });
T(811.5, 734, 'No Quality Matches', { size: 8, align: 'center' });

// STP panel text
T(1033, 615, 'Effective-Layer STP (with CIN)', { size: 15, bold: true, align: 'center' });
T(1023, 632.7, 'Prob EF2+ Torn with supercell', { size: 10.3 });
T(1023, 642.8, 'Sounding CLIMO = .15 sigtor', { size: 10.3 });
L(1018, 650, 1169, 650, 1.5);
const probName = ['based on MLCAPE:', 'based on MLLCL:', 'based on ESRH:', 'based on EBWD:', 'based on STP_fixed:', 'based on STP_effective:'];
const probVal = ['0.12', '0.06', '0.06', '0.00', '0.05', '0.06'];
const probNameY = [655.6, 665.3, 677.4, 687.5, 702, 712];
const probValY = [656.6, 666.3, 678.5, 688.6, 702.7, 712.8];
const probColor = ['#dd6633', '#cc8800', '#cc8800', '#cc8800', '#cc8800', '#cc8800'];
probName.forEach((s, i) => { T(1026.7, probNameY[i], s, { size: 9 }); T(1132.4, probValY[i], probVal[i], { size: 12, color: probColor[i] }); });
(function () {
  const d = document.createElement('div');
  d.className = 'ln';
  Object.assign(d.style, { left: '1018px', top: '692.5px', width: '151px', height: '0px', background: 'none', borderTop: '1.5px dashed #000' });
  document.body.appendChild(d);
})();
</script>
</body>
</html>
